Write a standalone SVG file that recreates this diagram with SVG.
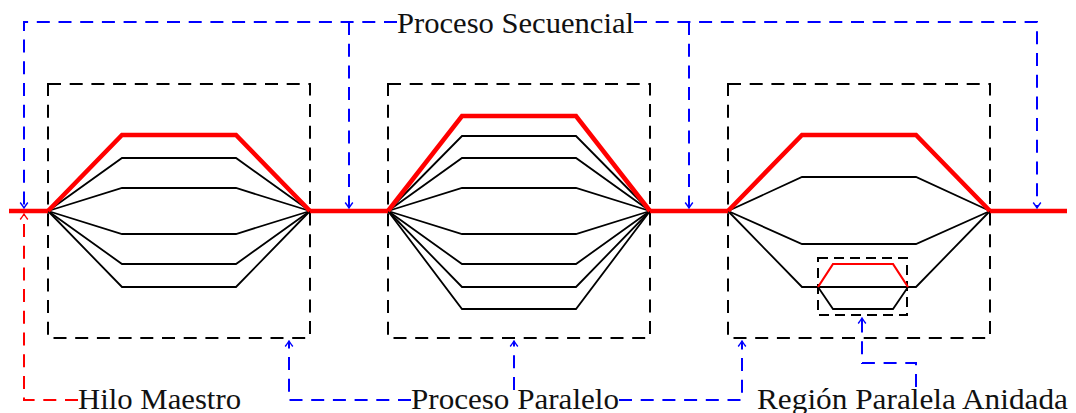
<svg xmlns="http://www.w3.org/2000/svg" width="1076" height="413" viewBox="0 0 1076 413">
<style>
.box{fill:none;stroke:#000;stroke-width:2;stroke-dasharray:13 8.7}
.thr{fill:none;stroke:#000;stroke-width:1.8;stroke-linejoin:miter}
.mst{fill:none;stroke:#f00;stroke-width:4.5;stroke-linejoin:miter}
.mst2{fill:none;stroke:#f00;stroke-width:2.2}
.bl{fill:none;stroke:#00f;stroke-width:2;stroke-dasharray:13 8.7}
.rd{fill:none;stroke:#f00;stroke-width:2;stroke-dasharray:13 8.7}
.lbl{font-family:"Liberation Serif","Times New Roman",serif;font-size:30px;fill:#111}
</style>
<defs>
<marker id="ab" viewBox="-7 -5 8 10" refX="0" refY="0" markerWidth="8" markerHeight="10" orient="auto" markerUnits="userSpaceOnUse">
<path d="M-5.5,-3.8 Q-1.5,-0.8 0,0 Q-1.5,0.8 -5.5,3.8" fill="none" stroke="#00f" stroke-width="1.4"/>
</marker>
<marker id="ar" viewBox="-7 -5 8 10" refX="0" refY="0" markerWidth="8" markerHeight="10" orient="auto" markerUnits="userSpaceOnUse">
<path d="M-5.5,-3.8 Q-1.5,-0.8 0,0 Q-1.5,0.8 -5.5,3.8" fill="none" stroke="#f00" stroke-width="1.4"/>
</marker>
</defs>
<rect width="1076" height="413" fill="#fff"/>

<g id="region1">
<rect class="box" x="48" y="84" width="262" height="254"/>
<polyline class="thr" points="48,211 122,158 236,158 310,211"/>
<polyline class="thr" points="48,211 122,188 236,188 310,211"/>
<polyline class="thr" points="48,211 122,234 236,234 310,211"/>
<polyline class="thr" points="48,211 122,264 236,264 310,211"/>
<polyline class="thr" points="48,211 122,287 236,287 310,211"/>
<polyline class="mst" points="48,211 122,135 236,135 310,211"/>
</g>

<g id="region2">
<rect class="box" x="388" y="84" width="262" height="254"/>
<polyline class="thr" points="388,211 462,136 576,136 650,211"/>
<polyline class="thr" points="388,211 462,158 576,158 650,211"/>
<polyline class="thr" points="388,211 462,188 576,188 650,211"/>
<polyline class="thr" points="388,211 462,234 576,234 650,211"/>
<polyline class="thr" points="388,211 462,264 576,264 650,211"/>
<polyline class="thr" points="388,211 462,287 576,287 650,211"/>
<polyline class="thr" points="388,211 462,309 576,309 650,211"/>
<polyline class="mst" points="388,211 462,116 576,116 650,211"/>
</g>

<g id="region3">
<rect class="box" x="728" y="84" width="262" height="254"/>
<polyline class="thr" points="728,211 802,177 916,177 990,211"/>
<polyline class="thr" points="728,211 802,244 916,244 990,211"/>
<polyline class="thr" points="728,211 802,287 916,287 990,211"/>
<polyline class="mst" points="728,211 802,135 916,135 990,211"/>
</g>

<g id="nested">
<rect class="box" x="818" y="258" width="89" height="57" style="stroke-dasharray:10 6"/>
<polyline class="thr" points="818,287 833,309 893,309 908,287"/>
<polyline class="mst2" points="818,287 833,264 893,264 908,287"/>
</g>

<g id="master">
<line class="mst" x1="9" y1="211" x2="48" y2="211"/>
<line class="mst" x1="310" y1="211" x2="388" y2="211"/>
<line class="mst" x1="650" y1="211" x2="728" y2="211"/>
<line class="mst" x1="990" y1="211" x2="1067" y2="211"/>
</g>

<g id="connectors">
<polyline class="bl" points="397,22 24,22 24,208" marker-end="url(#ab)"/>
<polyline class="bl" points="349,22 349,208" marker-end="url(#ab)"/>
<polyline class="bl" points="634,22 1037,22 1037,208" marker-end="url(#ab)"/>
<polyline class="bl" points="689,22 689,208" marker-end="url(#ab)"/>
<polyline class="rd" points="78,400 24,400 24,214" marker-end="url(#ar)"/>
<polyline class="bl" points="411,400 289,400 289,341" marker-end="url(#ab)"/>
<polyline class="bl" points="514,390 514,341" marker-end="url(#ab)"/>
<polyline class="bl" points="619,400 742,400 742,341" marker-end="url(#ab)"/>
<polyline class="bl" points="916,387 916,363 862,363 862,318" marker-end="url(#ab)"/>
</g>

<g id="labels">
<text class="lbl" x="397" y="33" textLength="237" lengthAdjust="spacingAndGlyphs">Proceso Secuencial</text>
<text class="lbl" x="78" y="409" textLength="163" lengthAdjust="spacingAndGlyphs">Hilo Maestro</text>
<text class="lbl" x="411" y="409" textLength="208" lengthAdjust="spacingAndGlyphs">Proceso Paralelo</text>
<text class="lbl" x="757" y="409" textLength="311" lengthAdjust="spacingAndGlyphs">Región Paralela Anidada</text>
</g>
</svg>
